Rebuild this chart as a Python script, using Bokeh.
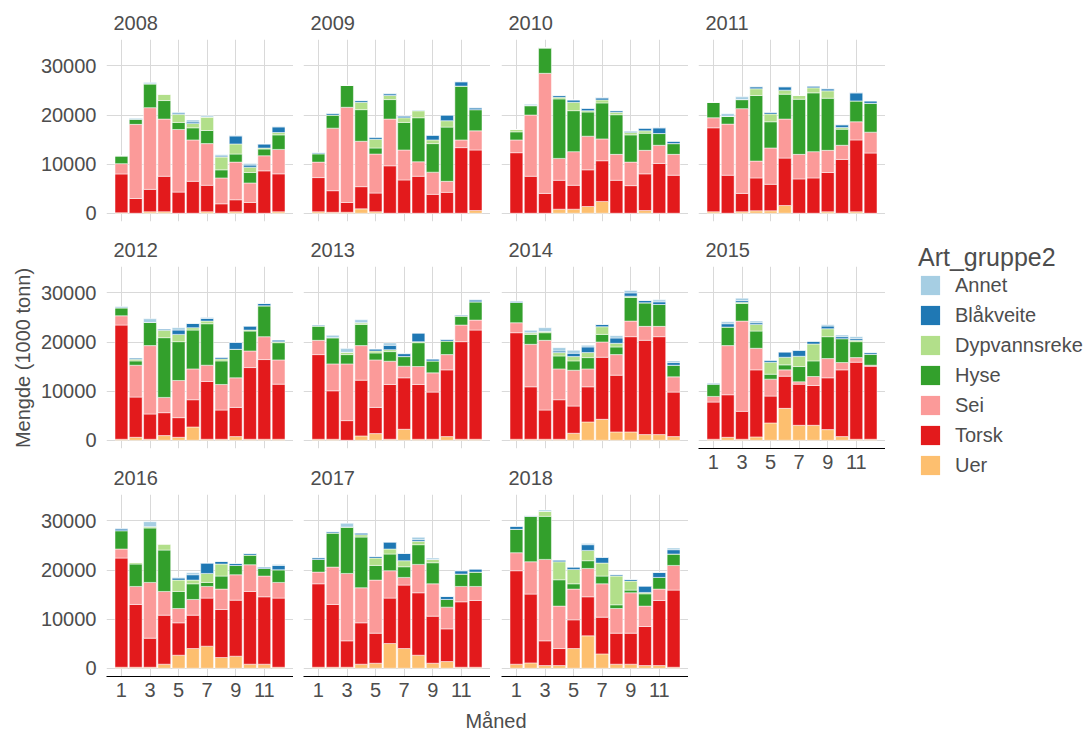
import numpy as np
from bokeh.plotting import figure
from bokeh.models import ColumnDataSource, FixedTicker, Legend, LegendItem, Range1d, Spacer, Title
from bokeh.layouts import row, column
from bokeh.embed import file_html
from bokeh.resources import INLINE
from bokeh.core.properties import value

YEARS = [2008, 2009, 2010, 2011, 2012, 2013, 2014, 2015, 2016, 2017, 2018]
MONTHS = [1, 2, 3, 4, 5, 6, 7, 8, 9, 10, 11, 12]
MONTH_TICKS = [1, 3, 5, 7, 9, 11]
Y_TICKS = [0, 10000, 20000, 30000]

# stacking order, bottom -> top
SPECIES = ["Uer", "Torsk", "Sei", "Hyse", "Dypvannsreke", "Blåkveite", "Annet"]
COLORS = ["#FDBF6F", "#E31A1C", "#FB9A99", "#33A02C", "#B2DF8A", "#1F78B4", "#A6CEE3"]

# values per species: one row of 12 months per year (2008..2018), 1000 tonn
UER = [
    100, 0, 300, 300, 0, 0, 300, 0, 300, 0, 0, 300,
    300, 200, 200, 890, 300, 0, 0, 0, 0, 0, 0, 550,
    0, 0, 0, 820, 820, 1370, 2400, 0, 0, 550, 0, 0,
    300, 0, 300, 500, 500, 1580, 0, 0, 300, 0, 300, 0,
    200, 600, 200, 950, 600, 2700, 200, 200, 740, 200, 200, 200,
    200, 200, 0, 880, 1350, 200, 2230, 200, 200, 740, 200, 200,
    200, 200, 200, 200, 1420, 3720, 4260, 1690, 1690, 1150, 1150, 740,
    200, 600, 200, 680, 3520, 6490, 3040, 3040, 2160, 740, 200, 200,
    200, 200, 200, 820, 2650, 4010, 4490, 2180, 2450, 820, 820, 200,
    200, 200, 200, 820, 1020, 5030, 4010, 2650, 1020, 1360, 200, 200,
    820, 1090, 540, 540, 4010, 6600, 2920, 820, 820, 540, 540, 200,
]
TORSK = [
    7900, 3000, 4560, 7230, 4300, 6500, 5390, 1920, 2440, 2190, 8630, 7720,
    6960, 4390, 1990, 4520, 3810, 9660, 6780, 7530, 3840, 4250, 13360, 12330,
    12330, 7530, 4040, 5890, 4870, 7470, 8290, 6710, 5620, 7470, 10140, 7740,
    17100, 7740, 3740, 6690, 5390, 9650, 6990, 7190, 7990, 10960, 14630, 12260,
    23260, 8190, 5140, 4660, 4000, 5550, 11770, 5950, 5950, 14600, 16230, 11220,
    17240, 9870, 3990, 11360, 5340, 11160, 10480, 11160, 9600, 13590, 19880, 22240,
    21700, 10680, 5950, 8050, 5540, 7160, 12640, 11560, 19400, 19200, 19940, 9060,
    7570, 8660, 5680, 13650, 5470, 6560, 8380, 8110, 10550, 13590, 15690, 14880,
    22240, 12790, 5920, 9990, 6600, 6800, 9790, 9790, 11420, 14820, 13730, 14080,
    17000, 12790, 5380, 8430, 6120, 9250, 12920, 12720, 9590, 6660, 13330, 13600,
    19040, 14010, 5040, 3470, 5850, 7950, 7480, 6320, 6320, 7960, 13260, 15710,
]
SEI = [
    2100, 15100, 16640, 11650, 12760, 8430, 8490, 5270, 7670, 3970, 3080, 4980,
    3150, 12740, 19390, 9250, 7950, 9520, 6100, 2950, 4520, 2250, 1570, 3900,
    2600, 12470, 24460, 4460, 6850, 6850, 4450, 5280, 4790, 4790, 3700, 4250,
    2050, 10410, 17260, 3430, 7400, 7950, 5000, 5350, 4520, 2880, 3700, 4250,
    1890, 6490, 13930, 3110, 7570, 6280, 3310, 5210, 6020, 3380, 4660, 4940,
    2910, 5480, 11560, 7030, 9670, 4730, 2370, 3650, 3920, 3110, 3380, 2030,
    2030, 8660, 14200, 6280, 7300, 3650, 3110, 4190, 3180, 2840, 2100, 3110,
    1150, 10010, 18390, 4400, 3450, 1280, 480, 1830, 3920, 1490, 940, 200,
    1840, 3670, 11360, 4830, 2920, 3200, 2380, 4150, 5170, 5440, 4220, 3200,
    2380, 7610, 13730, 7140, 10810, 5580, 1570, 5780, 6590, 4420, 3130, 2860,
    3670, 6590, 16590, 8640, 6260, 5780, 6800, 5030, 8230, 4150, 2320, 5030,
]
HYSE = [
    1600, 1050, 4870, 3770, 1440, 2470, 2670, 1650, 1650, 2130, 1370, 2960,
    1710, 2670, 4450, 6440, 1230, 3970, 5620, 8970, 5820, 11040, 10960, 4320,
    1650, 1920, 5200, 12120, 8350, 4930, 7330, 8080, 5550, 3490, 2390, 2190,
    3150, 1580, 1850, 13360, 5340, 5070, 11230, 11980, 10620, 3290, 4250, 5890,
    1620, 880, 4730, 12170, 7910, 7910, 8450, 4800, 5810, 4060, 6290, 3510,
    2900, 5340, 1890, 4320, 1420, 1960, 1960, 4860, 2440, 2770, 1820, 3720,
    4120, 2020, 1550, 2640, 1900, 2300, 1550, 1560, 4800, 4800, 4460, 2370,
    2500, 3780, 3580, 3510, 1010, 1020, 3110, 3180, 4460, 4870, 3250, 2230,
    3740, 4560, 11080, 8430, 3470, 3190, 820, 2650, 1900, 1970, 1560, 2580,
    2590, 6940, 9450, 10330, 2990, 3400, 2170, 4010, 4290, 1570, 2520, 2920,
    4760, 9250, 8770, 5370, 1080, 1570, 1570, 750, 540, 2510, 2380, 2320,
]
DYPVANNSREKE = [
    0, 0, 0, 1300, 1640, 900, 2740, 2600, 2050, 1090, 200, 480,
    0, 0, 0, 1500, 1780, 830, 950, 1440, 750, 1300, 0, 0,
    480, 0, 0, 340, 1710, 270, 610, 480, 480, 480, 0, 0,
    0, 0, 0, 1370, 1580, 820, 760, 1030, 1500, 340, 0, 0,
    0, 330, 0, 1490, 1480, 480, 540, 400, 0, 200, 0, 210,
    0, 0, 470, 340, 400, 400, 0, 210, 0, 0, 0, 0,
    0, 340, 270, 680, 880, 1020, 1560, 740, 270, 0, 0, 0,
    0, 0, 270, 1350, 2440, 1550, 2090, 3440, 1620, 0, 270, 0,
    0, 340, 270, 1230, 2310, 750, 1830, 2450, 0, 0, 0, 0,
    0, 0, 0, 480, 1500, 1020, 1230, 680, 680, 0, 0, 0,
    0, 0, 1020, 3670, 2930, 2100, 2650, 5850, 1840, 280, 0, 0,
]
BLAAKVEITE = [
    0, 100, 0, 0, 260, 300, 0, 200, 1650, 420, 830, 1160,
    210, 340, 0, 350, 410, 340, 350, 0, 960, 1160, 890, 340,
    0, 0, 0, 350, 480, 480, 420, 340, 270, 550, 1170, 480,
    0, 0, 0, 410, 340, 690, 0, 340, 420, 550, 1640, 480,
    150, 270, 0, 270, 880, 880, 540, 340, 1420, 810, 470, 340,
    210, 0, 0, 0, 410, 880, 600, 1750, 400, 340, 210, 400,
    270, 0, 0, 330, 670, 1150, 470, 1080, 670, 470, 540, 540,
    210, 680, 340, 340, 400, 1080, 1220, 540, 540, 400, 340, 340,
    340, 0, 0, 0, 410, 1090, 2110, 540, 410, 340, 270, 880,
    340, 270, 0, 340, 340, 1420, 1490, 340, 0, 610, 680, 620,
    610, 140, 0, 340, 470, 1160, 1160, 270, 340, 1290, 1020, 880,
]
ANNET = [
    0, 150, 280, 0, 150, 400, 270, 280, 0, 340, 0, 0,
    0, 0, 0, 0, 0, 100, 0, 150, 0, 0, 0, 100,
    0, 270, 0, 0, 0, 0, 0, 0, 0, 0, 0, 0,
    0, 550, 550, 0, 0, 0, 0, 0, 0, 0, 0, 0,
    120, 0, 740, 0, 480, 0, 200, 0, 0, 0, 0, 0,
    0, 470, 750, 610, 0, 480, 0, 0, 0, 0, 0, 0,
    0, 480, 750, 680, 610, 330, 0, 470, 480, 0, 400, 340,
    0, 400, 470, 340, 0, 0, 0, 0, 270, 340, 400, 0,
    130, 0, 1020, 0, 140, 410, 0, 0, 0, 0, 0, 210,
    0, 0, 750, 0, 0, 0, 0, 480, 270, 0, 0, 0,
    0, 0, 270, 0, 0, 270, 0, 0, 0, 0, 0, 340,
]

SERIES = {"Uer": UER, "Torsk": TORSK, "Sei": SEI, "Hyse": HYSE,
          "Dypvannsreke": DYPVANNSREKE, "Blåkveite": BLAAKVEITE, "Annet": ANNET}

FONT = "Liberation Sans"
TXT = "#4D4D4D"
GRID = "#D9D9D9"

# ggplot-like limits: 5% expansion
totals = np.sum([np.array(SERIES[s]) for s in SPECIES], axis=0)
ymax = float(totals.max())
YR = (-0.05 * ymax, ymax * 1.05)
XR = (0.55 - 0.05 * 11.9, 12.45 + 0.05 * 11.9)

FW, FH = 187, 182
YLAB_W = 36
LEFT = [70, 10, 11, 10]
TOP = [39, 39, 40]
BOTPAD = 6
BOT = 30


def panel(idx, year):
    r, c = divmod(idx, 4)
    has_x = (year >= 2015)
    bb = BOT if has_x else BOTPAD
    p = figure(width=LEFT[c] + FW, height=TOP[r] + FH + bb,
               x_range=Range1d(*XR), y_range=Range1d(*YR),
               output_backend="svg", toolbar_location=None,
               x_axis_location="below" if has_x else None,
               y_axis_location="left" if c == 0 else None,
               min_border_left=LEFT[c], min_border_right=0,
               min_border_top=TOP[r], min_border_bottom=bb,
               outline_line_color=None, background_fill_color="white",
               border_fill_color="white")
    # small empty spacer between the strip title and the panel
    p.add_layout(Title(text=" ", text_font_size="1px", standoff=4), "above")
    p.title.text = str(year)
    p.title.align = "left"
    p.title.offset = 7
    p.title.standoff = 6
    p.title.text_font = FONT
    p.title.text_font_size = "20px"
    p.title.text_font_style = "normal"
    p.title.text_color = TXT

    for g in p.xgrid:
        g.ticker = FixedTicker(ticks=MONTH_TICKS)
    for g in p.ygrid:
        g.ticker = FixedTicker(ticks=Y_TICKS)
    p.grid.grid_line_color = GRID
    p.grid.grid_line_width = 1

    if has_x:
        ax = p.xaxis[0]
        ax.ticker = FixedTicker(ticks=MONTH_TICKS)
        ax.axis_line_color = "black"
        ax.axis_line_width = 1.2
        ax.major_tick_out = 0
        ax.major_tick_in = 0
        ax.minor_tick_out = 0
        ax.minor_tick_in = 0
        ax.major_label_standoff = 6
        ax.major_label_text_font = FONT
        ax.major_label_text_font_size = "20px"
        ax.major_label_text_color = TXT
    if c == 0:
        ay = p.yaxis[0]
        ay.ticker = FixedTicker(ticks=Y_TICKS)
        ay.axis_line_color = None
        ay.major_tick_out = 0
        ay.major_tick_in = 0
        ay.minor_tick_out = 0
        ay.minor_tick_in = 0
        ay.major_label_standoff = 10
        ay.major_label_text_font = FONT
        ay.major_label_text_font_size = "20px"
        ay.major_label_text_color = TXT

    data = {"month": MONTHS}
    for s in SPECIES:
        data[s] = SERIES[s][idx * 12:(idx + 1) * 12]
    src = ColumnDataSource(data)
    p.vbar_stack(SPECIES, x="month", width=0.9, source=src,
                 fill_color=COLORS, line_color="white", line_width=0.5)
    return p


figs = [panel(i, y) for i, y in enumerate(YEARS)]
cols = []
for c in range(4):
    members = [figs[i] for i in range(len(YEARS)) if i % 4 == c]
    cols.append(column(*members, spacing=0))

TOTAL_H = sum(TOP) + 3 * FH + 2 * BOTPAD + BOT   # 706
PANEL_MID = (TOP[0] + (TOTAL_H - BOT)) / 2.0      # centre of the panel block

# y-axis title
yl = figure(width=YLAB_W, height=TOTAL_H, x_range=Range1d(0, YLAB_W), y_range=Range1d(0, TOTAL_H),
            output_backend="svg", toolbar_location=None,
            x_axis_location=None, y_axis_location=None,
            min_border_left=0, min_border_right=0, min_border_top=0, min_border_bottom=0,
            outline_line_color=None)
yl.grid.visible = False
yl.text(x=[22], y=[TOTAL_H - PANEL_MID], text=["Mengde (1000 tonn)"], angle=np.pi / 2,
        text_align="center", text_baseline="middle",
        text_font=value(FONT), text_font_size="20px", text_color=TXT)

# legend
LEG_W = 200
lf = figure(width=LEG_W, height=TOTAL_H, x_range=Range1d(0, 1), y_range=Range1d(0, 1),
            output_backend="svg", toolbar_location=None,
            x_axis_location=None, y_axis_location=None,
            min_border_left=0, min_border_right=0, min_border_top=0, min_border_bottom=0,
            outline_line_color=None)
lf.grid.visible = False
rends = {}
for s, col in zip(SPECIES, COLORS):
    # zero-height placeholder bar, only used for the legend key
    rends[s] = lf.vbar(x=[0.5], top=[0], bottom=[0], width=0.0, fill_color=col,
                       line_color=None)
items = [LegendItem(label=s, renderers=[rends[s]]) for s in reversed(SPECIES)]
legend = Legend(items=items, location=(33, TOTAL_H - 477), title="Art_gruppe2",
                title_text_font=FONT, title_text_font_size="25px",
                title_text_font_style="normal", title_text_color=TXT,
                title_standoff=1,
                label_text_font=FONT, label_text_font_size="20px", label_text_color=TXT,
                glyph_width=24, glyph_height=24, label_height=24, label_standoff=13,
                spacing=6, padding=0, margin=0,
                border_line_color=None, background_fill_alpha=0)
lf.add_layout(legend, "center")

# x-axis title
XT_W = LEFT[1] + LEFT[2] + LEFT[3] + 4 * FW
XT_H = 26
xt = figure(width=XT_W, height=XT_H, x_range=Range1d(0, 1), y_range=Range1d(0, XT_H),
            output_backend="svg", toolbar_location=None,
            x_axis_location=None, y_axis_location=None,
            min_border_left=0, min_border_right=0, min_border_top=0, min_border_bottom=0,
            outline_line_color=None)
xt.grid.visible = False
xt.text(x=[0.5], y=[XT_H - 14], text=["Måned"], text_align="center", text_baseline="middle",
        text_font=value(FONT), text_font_size="20px", text_color=TXT)

top_row = row(yl, *cols, lf, spacing=0)
bottom_row = row(Spacer(width=YLAB_W + LEFT[0], height=XT_H), xt, spacing=0)
layout = column(top_row, bottom_row, spacing=0)

open("out.html", "w").write(file_html(layout, INLINE))
